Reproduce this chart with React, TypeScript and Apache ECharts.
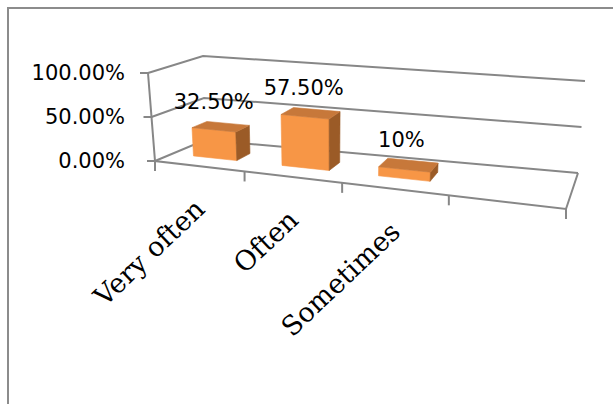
import React, { useEffect, useRef } from 'react';
import * as echarts from 'echarts';

// Survey answers and their shares (percent); the last slot is an empty category
const categories = ['Very often', 'Often', 'Sometimes', ''];
const shares = [32.5, 57.5, 10];
const yTicks = [0, 50, 100];
const yMax = 100;

type Pt = [number, number];

// Screen corners of the 3D plot box: f/b = front/back, b/t = bottom/top, l/r = left/right
const BOX: Record<string, Pt> = {
  fbl: [155, 161], fbr: [566, 209], ftl: [148, 73], ftr: [574, 114],
  bbl: [205, 140], bbr: [578, 173], btl: [203, 56], btr: [585, 81],
};

const GRID_COLOR = '#878787';
const FACE_FRONT = '#F79646';
const FACE_TOP = '#C7783A';
const FACE_SIDE = '#9B5B27';

const mix = (a: Pt, b: Pt, t: number): Pt => [a[0] + (b[0] - a[0]) * t, a[1] + (b[1] - a[1]) * t];
// horizontal foreshortening along the category direction
const warp = (x: number) => (0.836 * x) / (1 - 0.164 * x);

// x: 0..1 along categories, y: 0..1 along values, z: 0 (front) .. 1 (back)
function project(x: number, y: number, z: number): Pt {
  const f = warp(x);
  const front = mix(mix(BOX.fbl, BOX.fbr, f), mix(BOX.ftl, BOX.ftr, f), y);
  const back = mix(mix(BOX.bbl, BOX.bbr, f), mix(BOX.btl, BOX.btr, f), y);
  return mix(front, back, z);
}

// grid pixel -> normalized (0..1) position inside the cartesian rect
function toUnit(params: any, pt: number[]): Pt {
  const r = params.coordSys;
  return [(pt[0] - r.x) / r.width, (r.y + r.height - pt[1]) / r.height];
}

const pctLabel = (v: number) => (Number.isInteger(v) ? `${v}%` : `${v.toFixed(2)}%`);

const lineStyle = { stroke: GRID_COLOR, lineWidth: 2, fill: 'none' };

export default function App() {
  const ref = useRef<HTMLDivElement>(null);

  useEffect(() => {
    if (!ref.current) return;
    const chart = echarts.init(ref.current, undefined, { renderer: 'svg' });

    const wallSeries = {
      type: 'custom',
      z: 1,
      data: yTicks.map((t) => [0, t]),
      encode: { x: 0, y: 1 },
      renderItem: (params: any, api: any) => {
        const [, y] = toUnit(params, api.coord([0, api.value(1)]));
        const a = project(0, y, 0);
        const b = project(0, y, 1);
        const c = project(1, y, 1);
        return {
          type: 'group',
          children: [
            { type: 'polyline', shape: { points: [a, b, c] }, style: lineStyle },
            { type: 'line', shape: { x1: a[0] - 8, y1: a[1], x2: a[0], y2: a[1] }, style: lineStyle },
          ],
        };
      },
    };

    const frameSeries = {
      type: 'custom',
      z: 1,
      data: [[0, 0]],
      encode: { x: 0, y: 1 },
      renderItem: () => ({
        type: 'polyline',
        shape: { points: [project(1, 0, 1), project(1, 0, 0), project(0, 0, 0), project(0, 1, 0)] },
        style: lineStyle,
      }),
    };

    const categorySeries = {
      type: 'custom',
      z: 2,
      data: categories.map((_, i) => [i, 0]),
      encode: { x: 0, y: 1 },
      renderItem: (params: any, api: any) => {
        const i = params.dataIndex;
        const c = api.coord([api.value(0), 0]);
        const band = api.size([1, 0])[0];
        const [xl] = toUnit(params, [c[0] - band / 2, c[1]]);
        const [xc] = toUnit(params, c);
        const [xr] = toUnit(params, [c[0] + band / 2, c[1]]);
        const children: any[] = [];
        const tick = (x: number) => {
          const p = project(x, 0, 0);
          children.push({ type: 'line', shape: { x1: p[0], y1: p[1], x2: p[0], y2: p[1] + 10 }, style: lineStyle });
        };
        tick(xl);
        if (i === categories.length - 1) tick(xr);
        const anchor = project(xc, 0, 0);
        children.push({
          type: 'text',
          x: anchor[0] + 1,
          y: anchor[1] + 38,
          rotation: 0.76,
          style: {
            text: categories[i],
            fontFamily: 'DejaVu Serif',
            fontSize: 27,
            fill: '#000',
            align: 'right',
            verticalAlign: 'middle',
          },
        });
        return { type: 'group', children };
      },
    };

    const barSeries = {
      type: 'custom',
      z: 3,
      data: shares.map((v, i) => [i, v]),
      encode: { x: 0, y: 1 },
      renderItem: (params: any, api: any) => {
        const c = api.coord([api.value(0), api.value(1)]);
        const band = api.size([1, 0])[0];
        const [x0] = toUnit(params, [c[0] - band / 4, c[1]]);
        const [x1] = toUnit(params, [c[0] + band / 4, c[1]]);
        const [, yt] = toUnit(params, c);
        const z0 = 0.35;
        const z1 = 0.65;
        const face = (pts: Pt[], fill: string) => ({
          type: 'polygon',
          shape: { points: pts },
          style: { fill, stroke: fill, lineWidth: 0.6 },
        });
        const top = project((x0 + x1) / 2, yt, 0.5);
        return {
          type: 'group',
          children: [
            face([project(x0, 0, z0), project(x1, 0, z0), project(x1, yt, z0), project(x0, yt, z0)], FACE_FRONT),
            face([project(x1, 0, z0), project(x1, 0, z1), project(x1, yt, z1), project(x1, yt, z0)], FACE_SIDE),
            face([project(x0, yt, z0), project(x1, yt, z0), project(x1, yt, z1), project(x0, yt, z1)], FACE_TOP),
            {
              type: 'text',
              x: top[0] - 7,
              y: top[1] - 25,
              z2: 10,
              style: {
                text: pctLabel(api.value(1)),
                fontFamily: 'DejaVu Sans',
                fontSize: 21,
                fill: '#000',
                align: 'center',
                verticalAlign: 'middle',
              },
            },
          ],
        };
      },
    };

    chart.setOption({
      animation: false,
      backgroundColor: '#ffffff',
      grid: { left: 140, top: 73, width: 427, height: 88 },
      xAxis: { type: 'category', data: categories, show: false },
      yAxis: {
        type: 'value',
        min: 0,
        max: yMax,
        interval: 50,
        axisLine: { show: false },
        axisTick: { show: false },
        splitLine: { show: false },
        axisLabel: {
          margin: 15,
          color: '#000',
          fontFamily: 'DejaVu Sans',
          fontSize: 21,
          padding: [3, 0, 0, 0],
          formatter: (v: number) => `${v.toFixed(2)}%`,
        },
      },
      graphic: [
        {
          type: 'rect',
          silent: true,
          shape: { x: 8, y: 8, width: 700, height: 500 },
          style: { fill: 'none', stroke: '#8c8c8c', lineWidth: 2 },
        },
      ],
      series: [wallSeries, frameSeries, categorySeries, barSeries],
    });

    return () => chart.dispose();
  }, []);

  return <div ref={ref} style={{ position: 'absolute', left: 0, top: 0, width: 613, height: 404 }} />;
}
